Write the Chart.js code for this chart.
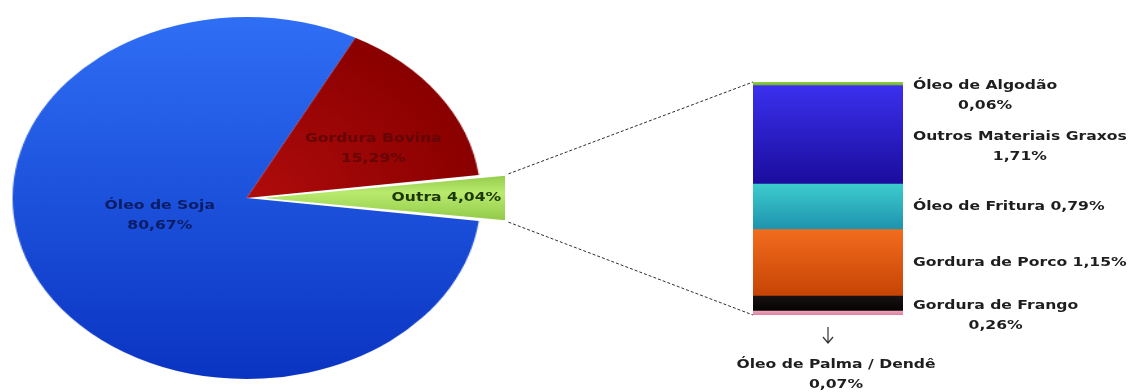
<!DOCTYPE html>
<html lang="pt">
<head>
    <meta charset="UTF-8">
    <title>Matérias-primas do biodiesel</title>
    <script src="https://cdn.jsdelivr.net/npm/chart.js"></script>
    <style>
        body {
            margin: 0;
            background: #ffffff;
            overflow: hidden;
        }

        #stage {
            position: relative;
            width: 1132px;
            height: 392px;
        }

        #pieBox {
            position: absolute;
            transform-origin: 0 0;
        }

        #barChart {
            position: absolute;
            left: 0;
            top: 0;
        }
    </style>
</head>
<body>

    <div id="stage">
        <div id="pieBox"><canvas id="pieChart" width="400" height="392"></canvas></div>
        <canvas id="barChart" width="1132" height="392"></canvas>
    </div>

    <script>
        // ** Data **
        let pieLabels = ["Óleo de Soja", "Gordura Bovina", "Outra"];
        let pieValues = [80.67, 15.29, 4.04];

        // stacked from the bottom up
        let barLabels = ["Óleo de Palma / Dendê", "Gordura de Frango", "Gordura de Porco",
                         "Óleo de Fritura", "Outros Materiais Graxos", "Óleo de Algodão"];
        let barValues = [0.07, 0.26, 1.15, 0.79, 1.71, 0.06];

        // ** Styles **
        let pieTop = ["#2f6ff5", "#b00c0c", "#8ec644"];
        let pieBottom = ["#0a34c2", "#8a0000", "#b8ea6e"];
        let pieTextColor = ["#0b1c64", "#640606", "#1c3600"];

        let barTop = ["#f0a4bc", "#1a1212", "#f26c1e", "#3ccccc", "#3b30ee", "#90d040"];
        let barBottom = ["#dc809e", "#040202", "#c64404", "#1e92ae", "#1a0c9c", "#70b02a"];

        // pie label placement: extra turn (deg) and fraction of the radius
        let pieLabelTurn = [13, 8, 0];
        let pieLabelFrac = [0.385, 0.605, 0.78];
        let pieLabelSplit = [true, true, false];

        // bar label placement: two lines or one, vertical nudge
        let barLabelSplit = [true, true, false, false, true, true];
        let barLabelNudge = [0, 12, 0, 0, 12, 12];

        const FONT = 'bold 13px "DejaVu Sans"';
        const TEXT_STRETCH = 1.2;   // labels are drawn a little wide
        const PIE_SX = 1.293;       // the pie is drawn as an ellipse
        const PIE_CX = 247, PIE_CY = 198;
        const PIE_LEFT = PIE_CX - 200 * PIE_SX;
        const PIE_TOP = PIE_CY - 196;

        let pieTotal = pieValues.reduce((a, b) => a + b, 0);
        let barTotal = barValues.reduce((a, b) => a + b, 0);

        function pct(v) {
            return v.toFixed(2).replace(".", ",") + "%";
        }

        function textWidth(ctx, text) {
            return ctx.measureText(text).width * TEXT_STRETCH;
        }

        function wideText(ctx, text, x, y, align) {
            ctx.save();
            ctx.translate(x, y);
            ctx.scale(TEXT_STRETCH, 1);
            ctx.textAlign = align || "center";
            ctx.fillText(text, 0, 0);
            ctx.restore();
        }

        // pie canvas coords -> page coords
        function pieToPage(x, y) {
            return [PIE_LEFT + x * PIE_SX, PIE_TOP + y];
        }

        let box = document.getElementById("pieBox");
        box.style.left = PIE_LEFT + "px";
        box.style.top = PIE_TOP + "px";
        box.style.transform = "scaleX(" + PIE_SX + ")";

        // ** Pie **
        let pieShading = {
            id: "pieShading",
            beforeDatasetsDraw(chart) {
                let ctx = chart.ctx;
                chart.getDatasetMeta(0).data.forEach((arc, i) => {
                    let g;
                    if (i === 2) {
                        g = ctx.createLinearGradient(0, arc.y - 26, 0, arc.y + 26);
                        g.addColorStop(0, pieTop[i]);
                        g.addColorStop(0.4, pieBottom[i]);
                        g.addColorStop(1, pieTop[i]);
                    } else if (i === 1) {
                        g = ctx.createRadialGradient(arc.x, arc.y, 0, arc.x, arc.y, arc.outerRadius);
                        g.addColorStop(0, pieTop[i]);
                        g.addColorStop(1, pieBottom[i]);
                    } else {
                        g = ctx.createLinearGradient(0, arc.y - arc.outerRadius, 0, arc.y + arc.outerRadius);
                        g.addColorStop(0, pieTop[i]);
                        g.addColorStop(1, pieBottom[i]);
                    }
                    arc.options.backgroundColor = g;
                });
            }
        };

        let pieChart = new Chart(document.getElementById("pieChart"), {
            type: "pie",
            data: {
                labels: pieLabels,
                datasets: [{
                    data: pieValues,
                    backgroundColor: pieTop,
                    borderWidth: 0,
                    offset: [0, 0, 52]
                }]
            },
            options: {
                responsive: false,
                animation: false,
                radius: 181,
                // the small slice sits centred on the right-hand side
                rotation: 90 + pieValues[2] / pieTotal * 180,
                plugins: {
                    legend: { display: false },
                    tooltip: { enabled: false }
                }
            },
            plugins: [pieShading]
        });

        // ** Stacked bar + labels, connectors **
        let barShading = {
            id: "barShading",
            beforeDatasetsDraw(chart) {
                let ctx = chart.ctx;
                chart.data.datasets.forEach((ds, i) => {
                    chart.getDatasetMeta(i).data.forEach(bar => {
                        let g = ctx.createLinearGradient(0, bar.y, 0, bar.base);
                        g.addColorStop(0, barTop[i]);
                        g.addColorStop(1, barBottom[i]);
                        bar.options.backgroundColor = g;
                    });
                });
            }
        };

        let overlay = {
            id: "overlay",
            afterDraw(chart) {
                let ctx = chart.ctx;
                let arcs = pieChart.getDatasetMeta(0).data;
                let bars = chart.data.datasets.map((ds, i) => chart.getDatasetMeta(i).data[0]);
                let topBar = bars[bars.length - 1];
                let lowBar = bars[0];
                let barLeft = topBar.x - topBar.width / 2;
                let barRight = topBar.x + topBar.width / 2;

                ctx.save();
                ctx.font = FONT;
                ctx.textBaseline = "middle";

                // dashed lines from the pulled-out slice to the bar
                // (ArcElement moves it by offset/4 and grows it by that times fix)
                let green = arcs[2];
                let shift = green.options.offset / 4;
                let mid = (green.startAngle + green.endAngle) / 2;
                let fix = 1 - Math.sin(Math.min(Math.PI, green.circumference));
                let r = green.outerRadius + shift * fix;
                let gx = green.x + Math.cos(mid) * shift;
                let gy = green.y + Math.sin(mid) * shift;
                let p1 = pieToPage(gx + Math.cos(green.startAngle) * r, gy + Math.sin(green.startAngle) * r);
                let p2 = pieToPage(gx + Math.cos(green.endAngle) * r, gy + Math.sin(green.endAngle) * r);

                ctx.strokeStyle = "#2e2e2e";
                ctx.lineWidth = 1;
                ctx.setLineDash([3, 2]);
                ctx.beginPath();
                ctx.moveTo(p1[0], p1[1]);
                ctx.lineTo(barLeft, topBar.y);
                ctx.moveTo(p2[0], p2[1]);
                ctx.lineTo(barLeft, lowBar.base);
                ctx.stroke();
                ctx.setLineDash([]);

                // pie labels
                arcs.forEach((arc, i) => {
                    let a = (arc.startAngle + arc.endAngle) / 2;
                    let off = (arc.options.offset || 0) / 4;
                    let cx = arc.x + Math.cos(a) * off;
                    let cy = arc.y + Math.sin(a) * off;
                    let t = a + pieLabelTurn[i] * Math.PI / 180;
                    let rr = arc.outerRadius * pieLabelFrac[i];
                    let p = pieToPage(cx + Math.cos(t) * rr, cy + Math.sin(t) * rr);
                    ctx.fillStyle = pieTextColor[i];
                    if (pieLabelSplit[i]) {
                        wideText(ctx, pieLabels[i], p[0], p[1] - 10);
                        wideText(ctx, pct(pieValues[i]), p[0], p[1] + 10);
                    } else {
                        wideText(ctx, pieLabels[i] + " " + pct(pieValues[i]), p[0], p[1]);
                    }
                });

                // bar labels
                ctx.fillStyle = "#1e1e1e";
                bars.forEach((bar, i) => {
                    let midY = (bar.y + bar.base) / 2 + barLabelNudge[i];
                    if (i === 0) {
                        // the thin bottom strip gets an arrow and a label underneath
                        let ax = topBar.x;
                        let ay = lowBar.base + 12;
                        ctx.strokeStyle = "#333";
                        ctx.lineWidth = 1.2;
                        ctx.beginPath();
                        ctx.moveTo(ax, ay);
                        ctx.lineTo(ax, ay + 16);
                        ctx.moveTo(ax - 5, ay + 10);
                        ctx.lineTo(ax, ay + 16);
                        ctx.lineTo(ax + 5, ay + 10);
                        ctx.stroke();
                        wideText(ctx, barLabels[i], ax + 8, ay + 38);
                        wideText(ctx, pct(barValues[i]), ax + 8, ay + 58);
                        return;
                    }
                    let left = barRight + 10;
                    if (barLabelSplit[i]) {
                        let w = textWidth(ctx, barLabels[i]);
                        wideText(ctx, barLabels[i], left + w / 2, midY - 10);
                        wideText(ctx, pct(barValues[i]), left + w / 2, midY + 10);
                    } else {
                        wideText(ctx, barLabels[i] + " " + pct(barValues[i]), left, midY, "left");
                    }
                });

                ctx.restore();
            }
        };

        new Chart(document.getElementById("barChart"), {
            type: "bar",
            data: {
                labels: [""],
                datasets: barLabels.map((label, i) => ({
                    label: label,
                    data: [barValues[i]],
                    backgroundColor: barTop[i],
                    borderWidth: 0,
                    barPercentage: 1,
                    categoryPercentage: 1
                }))
            },
            options: {
                responsive: false,
                animation: false,
                layout: { padding: { left: 753, right: 229, top: 82, bottom: 77 } },
                scales: {
                    x: { display: false, stacked: true },
                    y: { display: false, stacked: true, min: 0, max: barTotal }
                },
                plugins: {
                    legend: { display: false },
                    tooltip: { enabled: false }
                }
            },
            plugins: [barShading, overlay]
        });
    </script>

</body>
</html>
